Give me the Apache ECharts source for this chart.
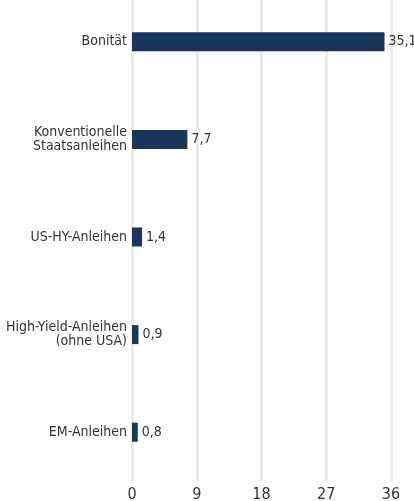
<!DOCTYPE html>
<html>
<head>
<meta charset="utf-8">
<script src="https://cdn.jsdelivr.net/npm/echarts@6/dist/echarts.min.js"></script>
<style>
  html, body { margin: 0; padding: 0; background: #fff; }
  #chart { width: 414px; height: 501px; }
</style>
</head>
<body>
<div id="chart"></div>
<script>
// Kategorien und Werte
var categories = [
  "Bonität",
  "Konventionelle\nStaatsanleihen",
  "US-HY-Anleihen",
  "High-Yield-Anleihen\n(ohne USA)",
  "EM-Anleihen"
];
var values = [35.1, 7.7, 1.4, 0.9, 0.8];
var xTicks = { min: 0, max: 36, step: 9 };

var fontFam = "'Liberation Sans Narrow', 'DejaVu Sans Condensed', sans-serif";
var chart = echarts.init(document.getElementById("chart"));
var option = {
  animation: false,
  grid: {
    top: -7,
    bottom: 20,
    left: 132,
    right: 23,
    containLabel: false,
    outerBoundsMode: "none"
  },
  xAxis: {
    type: "value",
    min: xTicks.min,
    max: xTicks.max,
    interval: xTicks.step,
    axisLine: { show: false },
    axisTick: { show: false },
    axisLabel: {
      color: "#333",
      fontFamily: fontFam,
      fontSize: 16,
      margin: 6
    },
    splitLine: {
      show: true,
      lineStyle: { color: "#ebebeb", width: 3 }
    }
  },
  yAxis: {
    type: "category",
    data: categories,
    inverse: true,
    axisLine: { show: false },
    axisTick: { show: false },
    axisLabel: {
      color: "#333",
      fontFamily: fontFam,
      fontSize: 14,
      lineHeight: 14,
      margin: 5
    }
  },
  series: [
    {
      type: "bar",
      data: values,
      barWidth: 19,
      itemStyle: { color: "#1b365d" },
      label: {
        show: true,
        position: "right",
        distance: 4,
        color: "#333",
        fontFamily: fontFam,
        fontSize: 14,
        formatter: function (p) {
          return String(p.value).replace(".", ",");
        }
      }
    }
  ]
};
chart.setOption(option);
</script>
</body>
</html>
